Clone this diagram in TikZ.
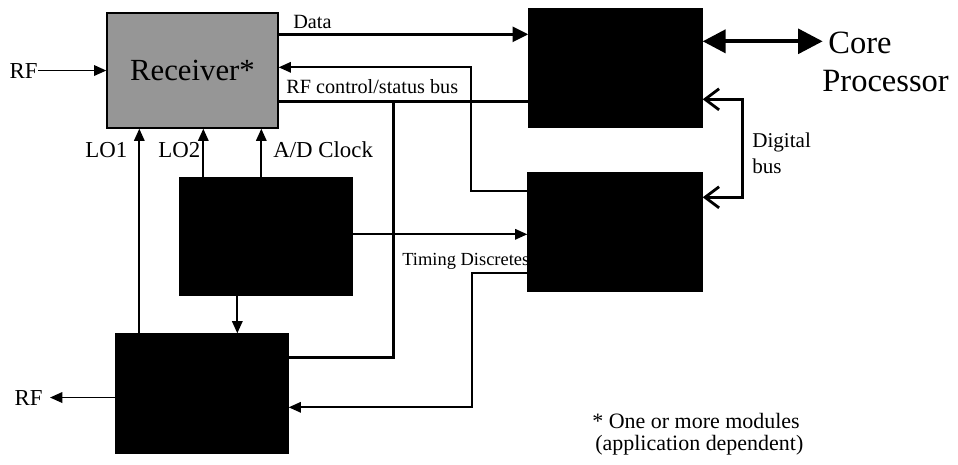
\documentclass[tikz,border=0pt]{standalone}
\usepackage{fontspec}
\setmainfont{Liberation Serif}
\usepackage{xcolor}
\usepackage{tikz}
\usetikzlibrary{arrows.meta,positioning,calc}
\definecolor{noisegray}{RGB}{150,150,150}

\tikzset{
  blk/.style={draw=black, fill=black, line width=0.8pt, inner sep=0pt,
    minimum width=3.44cm, minimum height=2.36cm},
  lbl/.style={inner sep=0pt},
  sig/.style={line width=1pt, -{Triangle[length=7pt,width=6pt]}},
  bus/.style={line width=1.8pt},
}

\begin{document}
\begin{tikzpicture}[x=0.02cm,y=-0.02cm]
  \useasboundingbox (0,0) rectangle (958,464);

  % boxes
  \node[blk, fill=noisegray, minimum width=3.42cm, minimum height=2.3cm,
    font=\fontsize{17.5}{20}\selectfont] (recv) at (192.5,70.5) {Receiver*};
  \node[blk, minimum width=3.46cm] (proc) at (615.5,68) {};
  \node[blk, minimum height=2.34cm] (synth) at (266,236.5) {};
  \node[blk, minimum height=2.38cm] (exc) at (202,393.5) {};
  \node[blk, minimum width=3.48cm] (ctrl) at (615,232) {};

  % RF in
  \node[lbl, anchor=base east, font=\fontsize{13}{15}\selectfont] (rfin) at (38,78) {RF};
  \draw[sig] (rfin.east) -- (rfin.east -| recv.west);

  % data
  \draw[bus, -{Triangle[length=9pt,width=8.5pt]}] ($(recv.north east)+(0,22)$) coordinate (d0) -- (d0 -| proc.west);
  \node[lbl, anchor=base west, font=\fontsize{11.5}{13}\selectfont] (datalbl) at (293,28) {Data};

  % RF control/status bus
  \draw[sig] ($(ctrl.north west)+(0,19)$) -- ++(-56,0) |- ($(recv.north east)+(0,55)$);
  \node[lbl, anchor=base west, font=\fontsize{11.5}{13}\selectfont] (ctrllbl) at (286,93) {RF control/status bus};

  % thick bus
  \draw[bus] ($(proc.north west)+(0,93)$) coordinate (b0) -- (b0 -| recv.east);
  \draw[bus] ($(b0 -| recv.east)+(115,0)$) |- ($(exc.north east)+(0,24)$);

  % LO1, LO2, A/D clock
  \draw[sig] ($(exc.north west)+(24,0)$) coordinate (l1) -- (l1 |- recv.south);
  \draw[sig] ($(synth.north west)+(24,0)$) coordinate (l2) -- (l2 |- recv.south);
  \draw[sig] ($(synth.north west)+(82,0)$) coordinate (l3) -- (l3 |- recv.south);
  \node[lbl, anchor=base west, font=\fontsize{13}{15}\selectfont] (lo1) at (85,157) {LO1};
  \node[lbl, anchor=base west, font=\fontsize{13}{15}\selectfont] (lo2) at (158,157) {LO2};
  \node[lbl, anchor=base west, font=\fontsize{13}{15}\selectfont] (adclk) at (273,157) {A/D Clock};

  % synth to exciter
  \draw[sig] ($(synth.south west)+(58,0)$) coordinate (s0) -- (s0 |- exc.north);

  % timing discretes
  \draw[sig] ($(synth.north east)+(0,57)$) coordinate (t0) -- (t0 -| ctrl.west);
  \node[lbl, anchor=base west, font=\fontsize{10.5}{12}\selectfont] (timlbl) at (402,265) {Timing Discretes};

  % control to exciter
  \draw[sig] ($(ctrl.north west)+(0,101)$) -- ++(-55,0) |- ($(exc.north east)+(0,74)$);

  % RF out
  \node[lbl, anchor=base east, font=\fontsize{13}{15}\selectfont] (rfout) at (43,405) {RF};
  \draw[sig] (rfout.east -| exc.west) -- ($(rfout.east)+(7,0)$);

  % core processor
  \draw[line width=2.3pt, {Triangle[length=13pt,width=13pt]}-{Triangle[length=14pt,width=14pt]}]
    ($(proc.north east)+(0,33)$) -- ++(120,0);
  \node[lbl, anchor=base west, font=\fontsize{18.5}{21}\selectfont] (core) at (828,53) {Core};
  \node[lbl, anchor=base west, font=\fontsize{18.5}{21}\selectfont] (corep) at (822,91) {Processor};

  % digital bus
  \draw[line width=1.6pt, {Straight Barb[length=8pt,width=12pt]}-{Straight Barb[length=8pt,width=12pt]}]
    ($(proc.north east)+(0,91)$) -- ++(40,0) |- ($(ctrl.north east)+(0,25)$);
  \node[lbl, anchor=base west, font=\fontsize{12}{14}\selectfont] (dig) at (752,147) {Digital};
  \node[lbl, anchor=base west, font=\fontsize{12}{14}\selectfont] (digb) at (752,173) {bus};

  % footnote
  \node[lbl, anchor=base west, font=\fontsize{12.5}{14}\selectfont] (note) at (592,428) {* One or more modules};
  \node[lbl, anchor=base west, font=\fontsize{12.5}{14}\selectfont] (note2) at (595,450) {(application dependent)};
\end{tikzpicture}
\end{document}
